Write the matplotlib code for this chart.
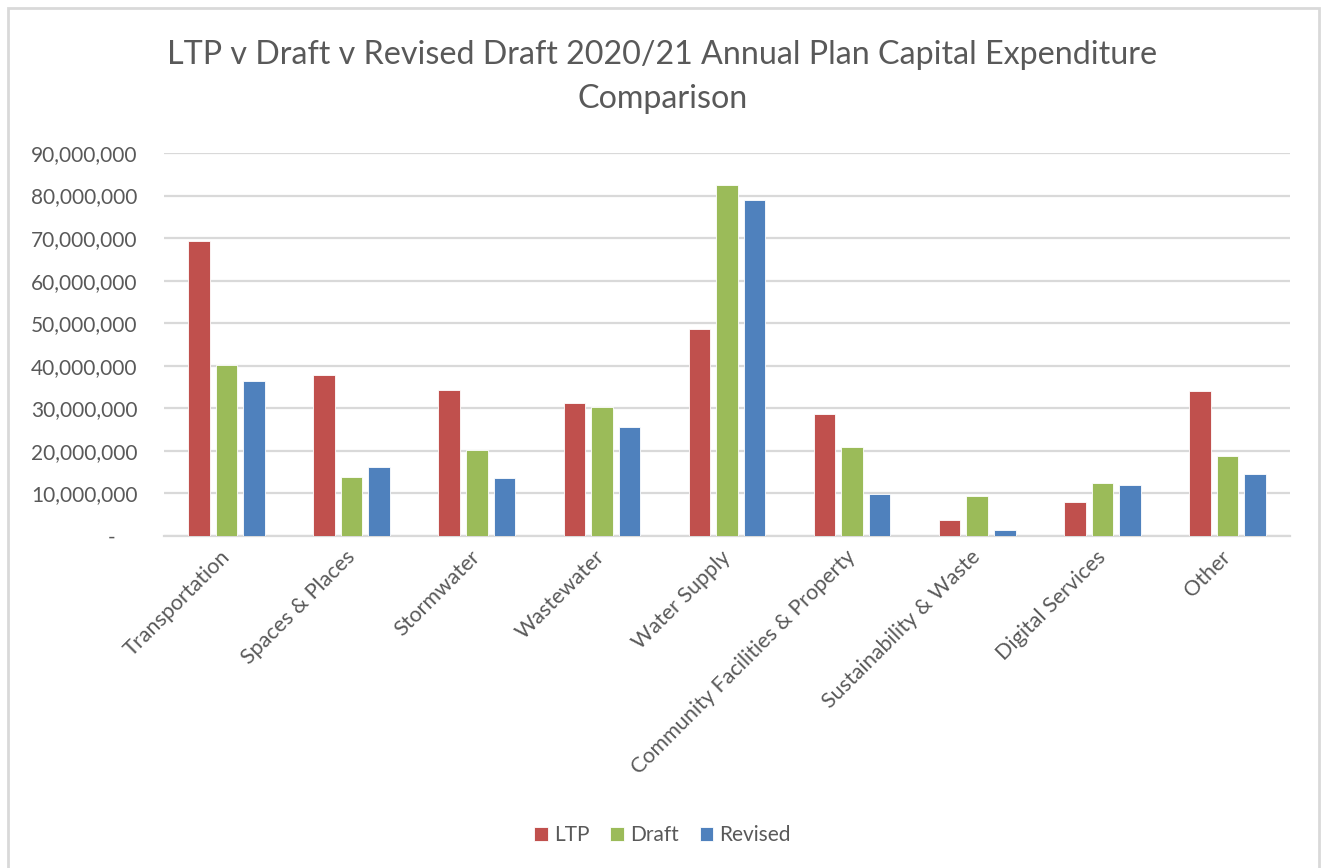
"""
LTP v Draft v Revised Draft 2020/21 Annual Plan capital expenditure, grouped bars.
"""

import numpy as np
import matplotlib
matplotlib.use("Agg")
import matplotlib.pyplot as plt
from matplotlib.patches import Rectangle
from matplotlib.ticker import FuncFormatter, MultipleLocator

plt.rcParams["font.family"] = ["Lato", "DejaVu Sans"]

categories = [
    "Transportation", "Spaces & Places", "Stormwater", "Wastewater", "Water Supply",
    "Community Facilities & Property", "Sustainability & Waste", "Digital Services", "Other",
]
ltp = [69.4e6, 37.9e6, 34.2e6, 31.2e6, 48.6e6, 28.6e6, 3.8e6, 8.0e6, 34.0e6]
draft = [40.1e6, 13.9e6, 20.1e6, 30.3e6, 82.4e6, 21.0e6, 9.5e6, 12.5e6, 18.9e6]
revised = [36.4e6, 16.1e6, 13.7e6, 25.7e6, 79.0e6, 9.8e6, 1.3e6, 11.9e6, 14.6e6]

series = [("LTP", ltp, "#C0504D"), ("Draft", draft, "#9BBB59"), ("Revised", revised, "#4F81BD")]
TEXT = "#595959"
GRID = "#D9D9D9"

W, H = 1325, 868
fig = plt.figure(figsize=(W / 100, H / 100), dpi=100)
ax = fig.add_axes([164 / W, 1 - 536 / H, (1290 - 164) / W, (536 - 153) / H])

x = np.arange(len(categories))
step, width = 0.22, 0.172
for i, (name, vals, color) in enumerate(series):
    ax.bar(x + (i - 1) * step, vals, width=width, color=color, label=name,
           edgecolor="white", linewidth=0.6, zorder=3)

ax.set_xlim(-0.5, len(categories) - 0.5)
ax.set_ylim(0, 90e6)
ax.yaxis.set_major_locator(MultipleLocator(10e6))
ax.yaxis.set_major_formatter(FuncFormatter(lambda v, p: "-    " if v == 0 else f"{v:,.0f}"))
ax.grid(axis="y", color=GRID, linewidth=1.6, zorder=0)
for side in ["top", "right", "left"]:
    ax.spines[side].set_visible(False)
ax.spines["bottom"].set_color(GRID)
ax.spines["bottom"].set_linewidth(1.6)
ax.tick_params(axis="y", length=0, pad=19, labelsize=15, labelcolor=TEXT)
ax.tick_params(axis="x", length=0, pad=13, labelsize=15.5, labelcolor=TEXT)

ax.set_xticks(x)
ax.set_xticklabels(categories, rotation=45, ha="right", va="center", rotation_mode="anchor")

fig.text(0.5, 1 - 55 / H, "LTP v Draft v Revised Draft 2020/21 Annual Plan Capital Expenditure",
         ha="center", va="center", fontsize=23.2, color=TEXT)
fig.text(0.5, 1 - 99 / H, "Comparison", ha="center", va="center", fontsize=23.2, color=TEXT)

fig.legend(loc="center", bbox_to_anchor=(0.5, 1 - 835 / H), ncol=3, frameon=False,
           fontsize=15, labelcolor=TEXT, handlelength=0.65, handleheight=0.65,
           handletextpad=0.3, columnspacing=1.0)

# light chart border as in the spreadsheet export
fig.patches.append(Rectangle((8 / W, -0.02), (1319 - 8) / W, 1 - 8 / H + 0.02,
                             transform=fig.transFigure, fill=False,
                             edgecolor=GRID, linewidth=2))

fig.savefig("out.png", dpi=100)
